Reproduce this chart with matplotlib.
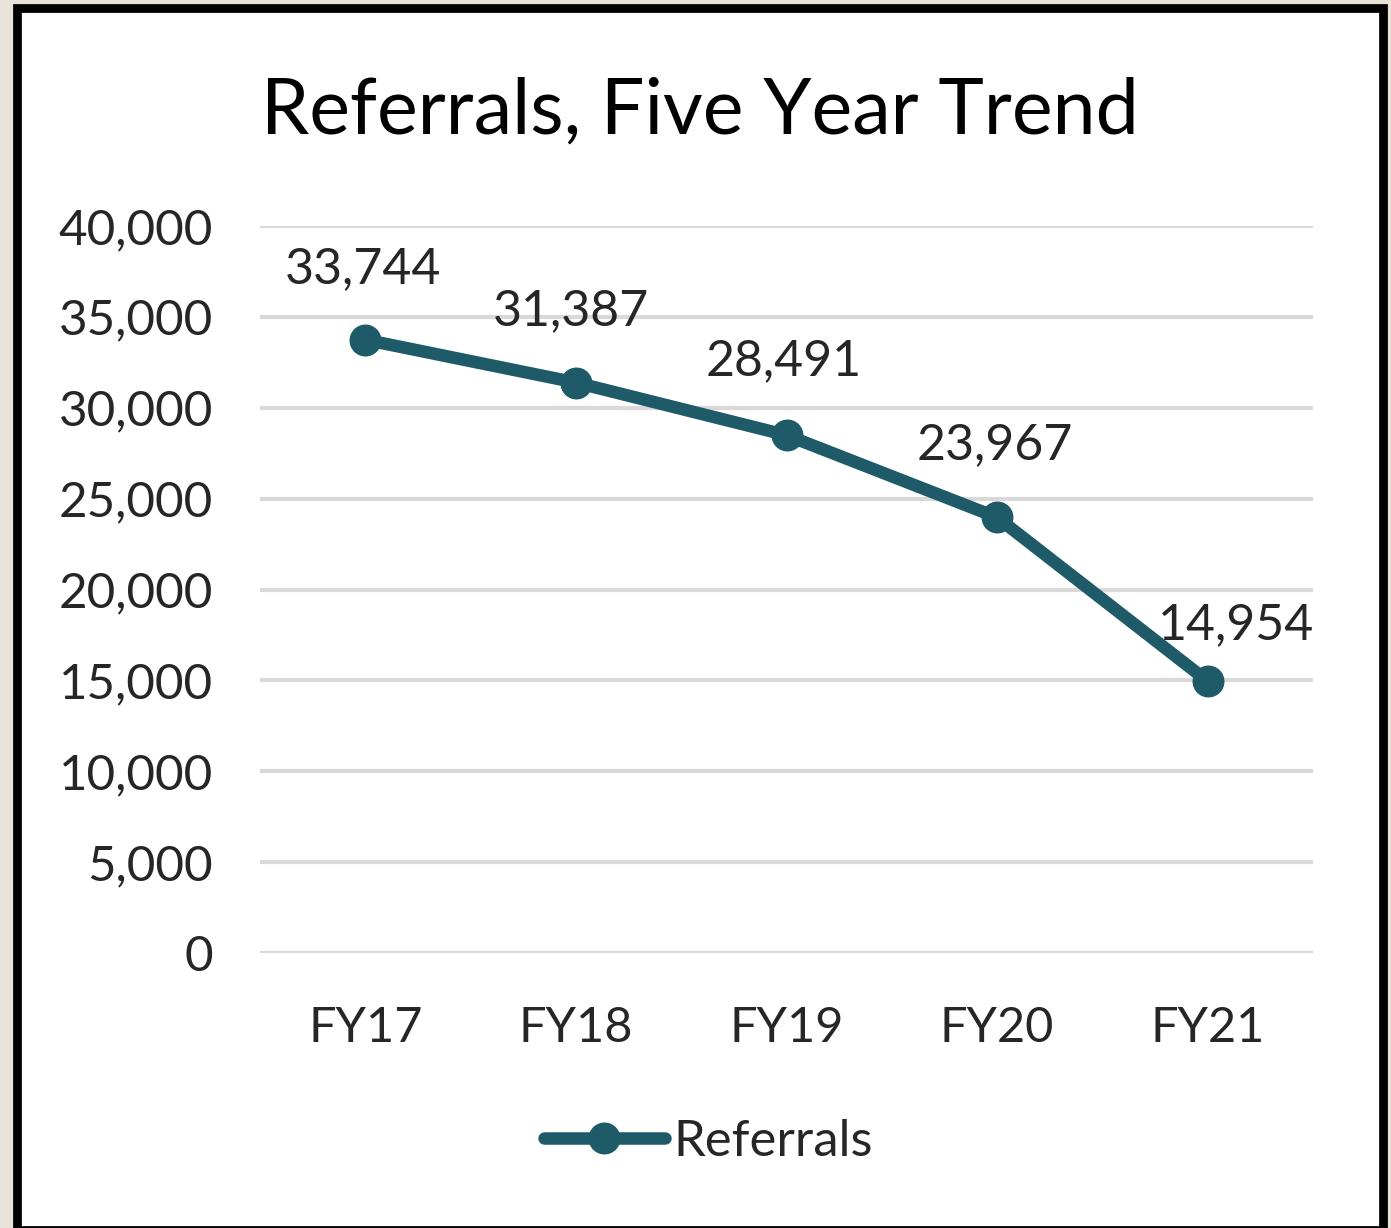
import matplotlib.pyplot as plt
from matplotlib.patches import Rectangle
from matplotlib.ticker import FuncFormatter

years = ["FY17", "FY18", "FY19", "FY20", "FY21"]
referrals = [33744, 31387, 28491, 23967, 14954]
y_ticks = [0, 5000, 10000, 15000, 20000, 25000, 30000, 35000, 40000]

# label offsets in pixels (dx, dy) relative to each point
label_offsets = [(-2, 71), (-5, 71), (-3, 74), (-2, 72), (28, 56)]

LINE_COLOR = "#1F5A68"
FONT = "Lato"

W, H = 1391, 1228
fig = plt.figure(figsize=(W / 100, H / 100), dpi=100)
fig.patch.set_facecolor("#E9E2D6")

# white card with black frame
card = Rectangle((17 / W, -2 / H), (1383 - 17) / W, (1220 + 2) / H,
                 transform=fig.transFigure, facecolor="white",
                 edgecolor="black", linewidth=6.3, zorder=0)
fig.patches.append(card)

ax = fig.add_axes([260 / W, (H - 953) / H, (1313 - 260) / W, (953 - 226) / H])
ax.set_facecolor("none")
ax.set_zorder(2)

x = list(range(len(years)))
ax.plot(x, referrals, color=LINE_COLOR, linewidth=9, marker="o",
        markersize=22, solid_capstyle="round", zorder=3, label="Referrals")

for xi, val, (dx, dy) in zip(x, referrals, label_offsets):
    ax.annotate(f"{val:,}", (xi, val), xytext=(dx * 0.72, dy * 0.72),
                textcoords="offset points", ha="center", va="center",
                fontsize=36, family=FONT, color="#262626")

ax.set_xlim(-0.5, 4.5)
ax.set_ylim(0, 40000)
ax.set_yticks(y_ticks)
ax.yaxis.set_major_formatter(FuncFormatter(lambda v, p: f"{int(v):,}"))
ax.set_xticks(x)
ax.set_xticklabels(years)
ax.grid(axis="y", color="#D9D9D9", linewidth=3, zorder=0)
ax.set_axisbelow(True)
for s in ax.spines.values():
    s.set_visible(False)
ax.tick_params(axis="y", length=0, pad=34, labelsize=35.5, labelcolor="#262626")
ax.tick_params(axis="x", length=0, pad=38, labelsize=35, labelcolor="#262626")
for lbl in ax.get_xticklabels() + ax.get_yticklabels():
    lbl.set_family(FONT)

fig.text(700 / W, 1 - 112 / H, "Referrals, Five Year Trend", ha="center",
         va="center", fontsize=55.5, family=FONT, color="black")

leg = fig.legend(loc="center", bbox_to_anchor=(708 / W, 1 - 1142 / H),
                 frameon=False, prop={"family": FONT, "size": 36.5},
                 handlelength=2.4, handletextpad=0.15, markerscale=1.0)
for t in leg.get_texts():
    t.set_color("#262626")

fig.savefig("out.png", dpi=100, facecolor=fig.get_facecolor())
